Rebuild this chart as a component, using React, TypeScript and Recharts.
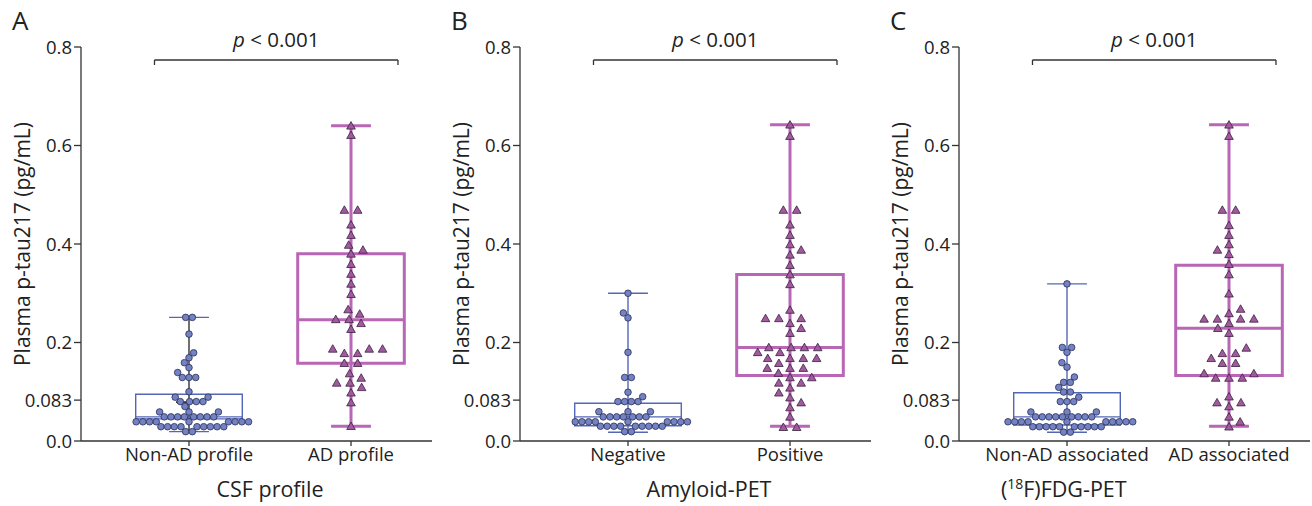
import React from "react";
import {
  ComposedChart,
  Scatter,
  XAxis,
  YAxis,
  ReferenceArea,
  ReferenceLine,
} from "recharts";

// shared axis
const Y_TICKS = [0, 0.083, 0.2, 0.4, 0.6, 0.8];
const Y_TICK_LABELS = ["0.0", "0.083", "0.2", "0.4", "0.6", "0.8"];
const Y_LABEL = "Plasma p-tau217 (pg/mL)";
const P_LABEL = " < 0.001";
const LETTERS = ["A", "B", "C"];

// panel A - CSF profile
const A_CATS = ["Non-AD profile", "AD profile"];
const A_TITLE = ["CSF profile"];
const A_NONAD = [
  0.251, 0.251, 0.217, 0.179, 0.169, 0.159, 0.149, 0.139, 0.129, 0.129, 0.129,
  0.1, 0.089, 0.089, 0.08, 0.08, 0.08, 0.08, 0.07, 0.059, 0.059, 0.059,
  0.049, 0.049, 0.049, 0.049, 0.049, 0.049, 0.049, 0.049,
  0.039, 0.039, 0.039, 0.039, 0.039, 0.039, 0.039, 0.039, 0.039,
  0.029, 0.029, 0.029, 0.029, 0.029, 0.029, 0.029, 0.029, 0.029,
  0.019, 0.019,
];
const A_AD = [
  0.64, 0.621, 0.469, 0.469, 0.439, 0.418, 0.398, 0.388, 0.38, 0.359, 0.339,
  0.319, 0.298, 0.267, 0.258, 0.247, 0.247, 0.239, 0.227, 0.187, 0.187, 0.187,
  0.178, 0.178, 0.158, 0.158, 0.137, 0.128, 0.118, 0.118, 0.109, 0.098, 0.078,
  0.03,
];
// min, q1, median, q3, max
const A_NONAD_BOX = [0.019, 0.045, 0.049, 0.095, 0.251];
const A_AD_BOX = [0.03, 0.158, 0.246, 0.38, 0.64];
const A_NONAD_MEAN = 0.079;

// panel B - Amyloid-PET
const B_CATS = ["Negative", "Positive"];
const B_TITLE = ["Amyloid-PET"];
const B_NEG = [
  0.3, 0.26, 0.25, 0.18, 0.129, 0.129, 0.099, 0.09, 0.08, 0.08, 0.08, 0.08,
  0.0595, 0.0595, 0.0595, 0.049, 0.049, 0.049, 0.049, 0.049, 0.049, 0.049,
  0.039, 0.039, 0.039, 0.039, 0.039, 0.039, 0.039, 0.039, 0.039,
  0.03, 0.03, 0.03, 0.03, 0.03, 0.03, 0.03, 0.03, 0.03, 0.019, 0.019,
];
const B_POS = [
  0.642, 0.619, 0.469, 0.469, 0.439, 0.418, 0.399, 0.388, 0.378, 0.357, 0.338,
  0.318, 0.266, 0.249, 0.249, 0.249, 0.239, 0.229, 0.219, 0.19, 0.19, 0.19,
  0.19, 0.18, 0.18, 0.168, 0.168, 0.168, 0.168, 0.158, 0.148, 0.148, 0.148,
  0.138, 0.129, 0.129, 0.118, 0.118, 0.108, 0.098, 0.088, 0.078, 0.068, 0.049,
  0.028, 0.028,
];
const B_NEG_BOX = [0.0177, 0.031, 0.049, 0.0765, 0.3];
const B_POS_BOX = [0.03, 0.133, 0.19, 0.338, 0.642];

// panel C - (18F)FDG-PET
const C_CATS = ["Non-AD associated", "AD associated"];
const C_TITLE = ["(", "18", "F)FDG-PET"];
const C_NONAD = [
  0.319, 0.19, 0.19, 0.18, 0.159, 0.15, 0.13, 0.119, 0.119, 0.109, 0.0995,
  0.0995, 0.089, 0.08, 0.08, 0.08, 0.059, 0.059, 0.059,
  0.049, 0.049, 0.049, 0.049, 0.049, 0.049, 0.049, 0.049, 0.049,
  0.039, 0.039, 0.039, 0.039, 0.039, 0.039, 0.039, 0.039, 0.039, 0.039,
  0.029, 0.029, 0.029, 0.029, 0.029, 0.029, 0.029, 0.029, 0.029, 0.029,
  0.018, 0.018,
];
const C_AD = [
  0.642, 0.619, 0.469, 0.469, 0.438, 0.418, 0.399, 0.388, 0.379, 0.359, 0.338,
  0.299, 0.268, 0.259, 0.248, 0.248, 0.248, 0.248, 0.239, 0.229, 0.219, 0.189,
  0.178, 0.178, 0.168, 0.158, 0.158, 0.137, 0.137, 0.128, 0.128, 0.128, 0.09,
  0.078, 0.078, 0.07, 0.049, 0.039, 0.029,
];
const C_NONAD_BOX = [0.0177, 0.0325, 0.049, 0.098, 0.319];
const C_AD_BOX = [0.03, 0.133, 0.229, 0.357, 0.642];

const FONT = "'Open Sans', sans-serif";
const INK = "#222";
const BLUE = "#5367b6";
const PINK = "#b866b5";

const W = 439;
const H = 506;
const TOP = 47;
const RIGHT = 7;
const YW = 81;
const XH = 65;
const X_LO = 1 / 3;
const X_HI = 2.5;
const PX_X = (W - YW - RIGHT) / (X_HI - X_LO);
const PX_Y = (H - TOP - XH) / 0.8;
const BOX_HALF = 0.329;
const CAP_HALF = 0.123;

// beeswarm layout, offsets in px around the category centre
function swarm(values: number[], hx: number, hy: number) {
  const sorted = [...values].sort((a, b) => a - b);
  const placed: { dx: number; py: number; y: number }[] = [];
  const hits = (dx: number, py: number) =>
    placed.some((p) => ((p.dx - dx) / hx) ** 2 + ((p.py - py) / hy) ** 2 < 0.98);
  let i = 0;
  while (i < sorted.length) {
    let j = i;
    while (j < sorted.length && sorted[j] === sorted[i]) j++;
    const n = j - i;
    const py = sorted[i] * PX_Y;
    const sym = Array.from({ length: n }, (_, k) => (k - (n - 1) / 2) * hx);
    if (!sym.some((dx) => hits(dx, py))) {
      sym.forEach((dx) => placed.push({ dx, py, y: sorted[i] }));
    } else {
      for (let k = 0; k < n; k++) {
        const cands = [0];
        placed.forEach((p) => {
          const d = Math.abs(p.py - py);
          if (d < hy) {
            const off = hx * Math.sqrt(1 - (d / hy) ** 2) + 0.01;
            cands.push(p.dx + off, p.dx - off);
          }
        });
        const bal = placed.reduce((s, p) => s + Math.sign(Math.round(p.dx)), 0);
        const ok = cands.filter((dx) => !hits(dx, py));
        ok.sort(
          (a, b) =>
            Math.round(Math.abs(a) * 10) - Math.round(Math.abs(b) * 10) ||
            (bal > 0 ? a - b : b - a)
        );
        placed.push({ dx: ok[0], py, y: sorted[i] });
      }
    }
    i = j;
  }
  return placed;
}

const Dot = (p: any) => (
  <circle cx={p.cx} cy={p.cy} r={3.3} fill="#7282c4" stroke="#2b2e55" strokeWidth={0.8} />
);
const Tri = (p: any) => (
  <path
    d={`M${p.cx},${p.cy - 4.2} L${p.cx + 4.3},${p.cy + 3.3} L${p.cx - 4.3},${p.cy + 3.3}Z`}
    fill="#a15a9d"
    stroke="#3a2140"
    strokeWidth={0.8}
  />
);

function boxEls(c: number, box: number[], color: string, sw: number, wColor: string, k: string) {
  const [mn, q1, med, q3, mx] = box;
  return [
    <ReferenceLine key={k + "w"} segment={[{ x: c, y: mn }, { x: c, y: mx }]} stroke={wColor} strokeWidth={sw} />,
    <ReferenceLine key={k + "c1"} segment={[{ x: c - CAP_HALF, y: mx }, { x: c + CAP_HALF, y: mx }]} stroke={color} strokeWidth={sw} />,
    <ReferenceLine key={k + "c2"} segment={[{ x: c - CAP_HALF, y: mn }, { x: c + CAP_HALF, y: mn }]} stroke={color} strokeWidth={sw} />,
    <ReferenceArea key={k + "b"} x1={c - BOX_HALF} x2={c + BOX_HALF} y1={q1} y2={q3} fill="none" fillOpacity={0} stroke={color} strokeWidth={sw} strokeOpacity={1} />,
    <ReferenceLine key={k + "m"} segment={[{ x: c - BOX_HALF, y: med }, { x: c + BOX_HALF, y: med }]} stroke={color} strokeWidth={sw} />,
  ];
}

const BR_Y = 0.7736;
const BR_TICK = 0.0102;
const BR_X1 = 0.787;
const BR_X2 = 2.29;

function Panel(props: any) {
  const { idx, cats, title, titleX, low, high, lowBox, highBox, mean } = props;
  const dots = swarm(low, 6.7, 6.8).map((p) => ({ x: 1 + p.dx / PX_X, y: p.y }));
  const tris = swarm(high, 13.3, 9).map((p) => ({ x: 2 + p.dx / PX_X, y: p.y }));
  const axisStyle = { stroke: "#333", strokeWidth: 1.3 };
  return (
    <div style={{ position: "absolute", left: idx * W, top: 0, width: W, height: H }}>
      <ComposedChart width={W} height={H} margin={{ top: TOP, right: RIGHT, bottom: 0, left: 0 }}>
        <XAxis
          type="number"
          dataKey="x"
          domain={[X_LO, X_HI]}
          ticks={[1, 2]}
          allowDataOverflow
          height={XH}
          tickSize={5}
          tickFormatter={(v: number) => cats[Math.round(v) - 1]}
          tick={{ fill: INK, fontSize: 18.5, fontFamily: FONT }}
          axisLine={axisStyle}
          tickLine={axisStyle}
          label={{
            content: (lp: any) => {
              const vb = lp.viewBox;
              const x = vb.x + ((titleX - X_LO) / (X_HI - X_LO)) * vb.width;
              return (
                <text x={x} y={vb.y + 56} textAnchor="middle" fill={INK} fontSize={21.5} fontFamily={FONT}>
                  {title.length > 1 ? (
                    <>
                      <tspan>{title[0]}</tspan>
                      <tspan dy={-8} fontSize={14}>{title[1]}</tspan>
                      <tspan dy={8}>{title[2]}</tspan>
                    </>
                  ) : (
                    title[0]
                  )}
                </text>
              );
            },
          }}
        />
        <YAxis
          type="number"
          dataKey="y"
          domain={[0, 0.8]}
          ticks={Y_TICKS}
          allowDataOverflow
          width={YW}
          tickSize={7}
          tickFormatter={(v: number) => Y_TICK_LABELS[Y_TICKS.indexOf(v)]}
          tick={{ fill: INK, fontSize: 18.5, fontFamily: FONT }}
          axisLine={axisStyle}
          tickLine={axisStyle}
          label={{
            content: (lp: any) => {
              const vb = lp.viewBox;
              const x = vb.x + 22;
              const y = vb.y + vb.height / 2;
              return (
                <text x={x} y={y} transform={`rotate(-90 ${x} ${y})`} textAnchor="middle" dominantBaseline="central" fill={INK} fontSize={21} fontFamily={FONT}>
                  {Y_LABEL}
                </text>
              );
            },
          }}
        />
        {boxEls(1, lowBox, BLUE, 1.4, mean != null ? "#333" : BLUE, "lo")}
        {mean != null && (
          <ReferenceLine segment={[{ x: 0.92, y: mean }, { x: 1.09, y: mean }]} stroke="#222" strokeWidth={1.6} />
        )}
        {boxEls(2, highBox, PINK, 3, PINK, "hi")}
        <ReferenceLine
          segment={[{ x: BR_X1, y: BR_Y }, { x: BR_X2, y: BR_Y }]}
          stroke="#333"
          strokeWidth={1.3}
          label={{
            content: (lp: any) => {
              const vb = lp.viewBox;
              return (
                <text x={vb.x + vb.width / 2} y={vb.y - 13} textAnchor="middle" fill={INK} fontSize={20.5} fontFamily={FONT}>
                  <tspan fontStyle="italic">p</tspan>
                  {P_LABEL}
                </text>
              );
            },
          }}
        />
        <ReferenceLine segment={[{ x: BR_X1, y: BR_Y }, { x: BR_X1, y: BR_Y - BR_TICK }]} stroke="#333" strokeWidth={1.3} />
        <ReferenceLine segment={[{ x: BR_X2, y: BR_Y }, { x: BR_X2, y: BR_Y - BR_TICK }]} stroke="#333" strokeWidth={1.3} />
        <Scatter data={dots} dataKey="y" shape={Dot} isAnimationActive={false} />
        <Scatter data={tris} dataKey="y" shape={Tri} isAnimationActive={false} />
      </ComposedChart>
      <div style={{ position: "absolute", left: 12, top: 7, fontSize: 26, lineHeight: "26px", fontFamily: FONT, color: INK }}>
        {LETTERS[idx]}
      </div>
    </div>
  );
}

export default function App() {
  return (
    <div style={{ position: "absolute", left: 0, top: 0, width: 1312, height: 506, background: "#fff" }}>
      <Panel idx={0} cats={A_CATS} title={A_TITLE} titleX={1.5} low={A_NONAD} high={A_AD} lowBox={A_NONAD_BOX} highBox={A_AD_BOX} mean={A_NONAD_MEAN} />
      <Panel idx={1} cats={B_CATS} title={B_TITLE} titleX={1.5} low={B_NEG} high={B_POS} lowBox={B_NEG_BOX} highBox={B_POS_BOX} />
      <Panel idx={2} cats={C_CATS} title={C_TITLE} titleX={0.98} low={C_NONAD} high={C_AD} lowBox={C_NONAD_BOX} highBox={C_AD_BOX} />
    </div>
  );
}
